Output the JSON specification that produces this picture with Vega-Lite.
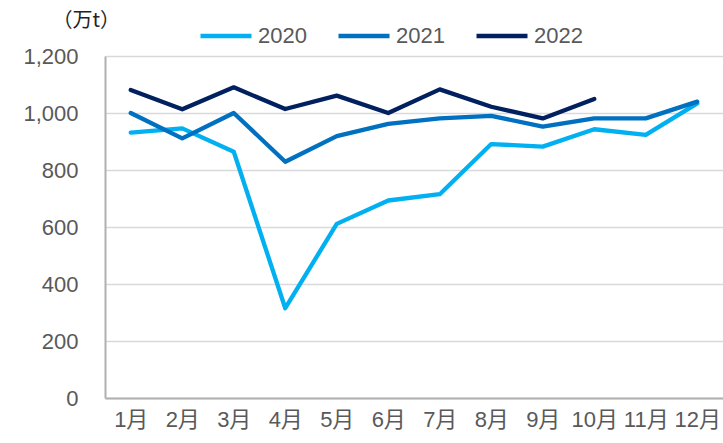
{
  "$schema": "https://vega.github.io/schema/vega-lite/v6.json",
  "width": 618,
  "height": 342,
  "autosize": {"type": "none"},
  "padding": {"left": 105, "top": 56, "right": 0, "bottom": 45},
  "background": "white",
  "config": {
    "view": {"stroke": null},
    "font": "Liberation Sans, Noto Sans CJK SC, sans-serif"
  },
  "data": {
    "values": [
      {"month": "1月", "year": "2020", "value": 931},
      {"month": "2月", "year": "2020", "value": 946},
      {"month": "3月", "year": "2020", "value": 864},
      {"month": "4月", "year": "2020", "value": 315},
      {"month": "5月", "year": "2020", "value": 611},
      {"month": "6月", "year": "2020", "value": 693},
      {"month": "7月", "year": "2020", "value": 715},
      {"month": "8月", "year": "2020", "value": 891},
      {"month": "9月", "year": "2020", "value": 882},
      {"month": "10月", "year": "2020", "value": 943},
      {"month": "11月", "year": "2020", "value": 923},
      {"month": "12月", "year": "2020", "value": 1034},
      {"month": "1月", "year": "2021", "value": 1000},
      {"month": "2月", "year": "2021", "value": 911},
      {"month": "3月", "year": "2021", "value": 1000},
      {"month": "4月", "year": "2021", "value": 829},
      {"month": "5月", "year": "2021", "value": 919},
      {"month": "6月", "year": "2021", "value": 962},
      {"month": "7月", "year": "2021", "value": 981},
      {"month": "8月", "year": "2021", "value": 990},
      {"month": "9月", "year": "2021", "value": 952},
      {"month": "10月", "year": "2021", "value": 981},
      {"month": "11月", "year": "2021", "value": 981},
      {"month": "12月", "year": "2021", "value": 1040},
      {"month": "1月", "year": "2022", "value": 1081},
      {"month": "2月", "year": "2022", "value": 1013},
      {"month": "3月", "year": "2022", "value": 1090},
      {"month": "4月", "year": "2022", "value": 1014},
      {"month": "5月", "year": "2022", "value": 1061},
      {"month": "6月", "year": "2022", "value": 1000},
      {"month": "7月", "year": "2022", "value": 1083},
      {"month": "8月", "year": "2022", "value": 1022},
      {"month": "9月", "year": "2022", "value": 981},
      {"month": "10月", "year": "2022", "value": 1049}
    ]
  },
  "mark": {"type": "line", "strokeWidth": 4.3, "strokeJoin": "round", "strokeCap": "round"},
  "encoding": {
    "x": {
      "field": "month",
      "type": "ordinal",
      "sort": ["1月","2月","3月","4月","5月","6月","7月","8月","9月","10月","11月","12月"],
      "scale": {"type": "point", "padding": 0.5},
      "axis": {
        "title": null,
        "labelAngle": 0,
        "labelFontSize": 22,
        "labelColor": "#595959",
        "labelPadding": 11,
        "labelOverlap": false,
        "ticks": false,
        "domainColor": "#B0B0B0",
        "domainWidth": 2,
        "grid": false
      }
    },
    "y": {
      "field": "value",
      "type": "quantitative",
      "scale": {"domain": [0, 1200]},
      "axis": {
        "values": [0, 200, 400, 600, 800, 1000, 1200],
        "format": ",d",
        "labelFontSize": 22,
        "labelColor": "#595959",
        "labelPadding": 27,
        "ticks": false,
        "domainColor": "#B0B0B0",
        "domainWidth": 2,
        "gridColor": "#D9D9D9",
        "gridWidth": 1.5,
        "title": "（万t）",
        "titleAngle": 0,
        "titleAlign": "left",
        "titleBaseline": "middle",
        "titleX": -53,
        "titleY": -36,
        "titleFont": "Noto Sans CJK SC",
        "titleFontSize": 20,
        "titleFontWeight": "normal",
        "titleColor": "#222222"
      }
    },
    "color": {
      "field": "year",
      "type": "nominal",
      "scale": {"domain": ["2020", "2021", "2022"], "range": ["#00B0F0", "#0070C0", "#002060"]},
      "legend": {
        "title": null,
        "orient": "none",
        "direction": "horizontal",
        "legendX": 93,
        "legendY": -48,
        "symbolType": "stroke",
        "symbolSize": 2600,
        "symbolStrokeWidth": 4.3,
        "labelFontSize": 22,
        "labelColor": "#595959",
        "labelOffset": 4,
        "columnPadding": 22
      }
    }
  }
}
